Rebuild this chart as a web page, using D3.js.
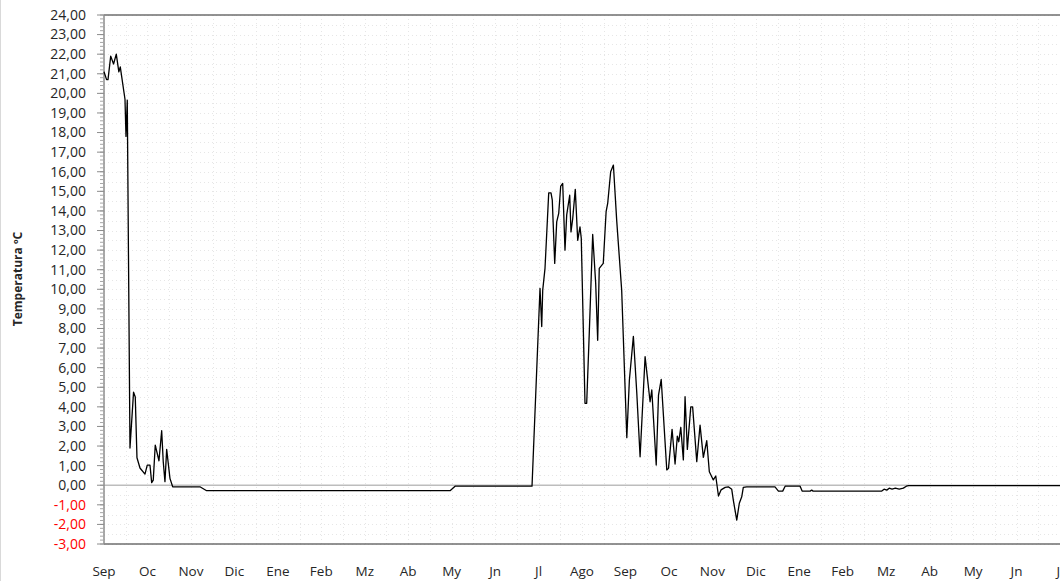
<!DOCTYPE html>
<html><head><meta charset="utf-8">
<script src="https://cdn.jsdelivr.net/npm/d3@7/dist/d3.min.js"></script>
<style>
html,body{margin:0;padding:0;background:#fff;}
svg{display:block;}
text{font-family:"Open Sans","Lato",sans-serif;}
</style></head>
<body>
<svg id="chart" width="1060" height="581"></svg>
<script>
// Month labels (Sep 2010 .. Jul 2012)
const months = ["Sep","Oc","Nov","Dic","Ene","Feb","Mz","Ab","My","Jn","Jl","Ago","Sep","Oc","Nov","Dic","Ene","Feb","Mz","Ab","My","Jn","Jl"];
// Y tick values
const yTicks = d3.range(-3, 25, 1);
// Days since 1 Sep (first year) of each reading
const days = [0,1.8,2.8,4.7,6.7,8.6,10.4,11.4,14.7,15.4,16.3,18.2,20.7,21.9,23.1,25.2,28.7,30.3,32.2,33.4,34.5,35.9,38.5,40.4,41.5,42.7,43.9,46.2,48.1,67.2,71.9,242.4,245.9,299.8,
305.4,306.6,307.3,308.9,310.1,311.5,313.1,314.0,315.7,317.1,318.5,319.9,321.3,322.9,324.1,326.2,327.1,328.3,330.1,331.8,333.4,334.3,336.9,338.1,339.9,342.3,344.4,345.8,346.9,349.7,351.7,352.8,354.9,356.8,359.1,362.6,
366.2,368.0,370.8,373.2,375.5,379.0,382.5,383.7,386.8,388.4,390.3,394.2,395.4,397.9,400.0,401.6,402.6,404.0,405.8,407.0,408.6,411.0,412.3,415.2,417.5,419.8,422.2,424.0,426.8,428.5,430.4,432.2,435.1,437.3,439.7,440.8,443.2,445.0,446.7,447.8,450.2,
470.0,472.4,475.4,477.1,487.6,489.0,494.6,495.7,496.7,544.8,546.4,548.3,550,552,554.3,557,559.9,562,563.6,669.7];
// Temperature (ºC)
const temps = [21.1,20.7,20.7,21.9,21.5,22.0,21.1,21.35,19.7,17.8,19.65,1.9,4.75,4.5,1.4,0.88,0.57,1.03,1.03,0.13,0.26,2.05,1.25,2.78,1.2,0.18,1.83,0.35,-0.08,-0.08,-0.28,-0.28,-0.05,-0.05,
10.05,8.1,9.96,11.07,12.85,14.92,14.92,14.55,11.32,13.44,13.87,15.27,15.4,12.0,13.8,14.8,12.93,13.6,15.1,12.5,13.19,12.6,4.18,4.18,7.75,12.8,10.3,7.4,11.07,11.32,13.96,14.38,16.0,16.34,13.53,9.96,
2.43,5.37,7.6,4.69,1.45,6.56,4.26,4.86,1.03,4.6,5.4,0.78,0.86,2.85,1.08,2.51,2.22,2.95,1.29,4.52,1.83,4.0,4.0,1.2,3.07,1.42,2.27,0.69,0.27,0.47,-0.55,-0.24,-0.11,-0.08,-0.21,-0.76,-1.78,-0.92,-0.59,-0.11,-0.08,
-0.08,-0.3,-0.3,-0.05,-0.05,-0.3,-0.3,-0.25,-0.3,-0.3,-0.2,-0.25,-0.15,-0.2,-0.15,-0.2,-0.15,-0.05,-0.02,-0.02];

const MONTH = 30.4375;
const svg = d3.select("#chart");
const pLeft = 104, pRight = 1060, pTop = 15, pBottom = 544;

const x = d3.scaleLinear().domain([0, 22 * MONTH]).range([pLeft, pRight]);
const y = d3.scaleLinear().domain([-3, 24]).range([pBottom, pTop]);

// outer chart border (left)
svg.append("line").attr("x1",0.5).attr("x2",0.5).attr("y1",0).attr("y2",581)
  .attr("stroke","#d9d9d9").attr("stroke-width",1);

// grid
const g = svg.append("g");
g.selectAll("line.hg").data(d3.range(-3, 24.01, 0.5)).join("line")
  .attr("x1", pLeft).attr("x2", 1060)
  .attr("y1", d => Math.round(y(d)) + 0.5).attr("y2", d => Math.round(y(d)) + 0.5)
  .attr("stroke", "#e6e6e6").attr("stroke-dasharray", "1,3");
g.selectAll("line.vg").data(d3.range(0, 23 * 2).map(i => i * MONTH / 2)).join("line")
  .attr("y1", pTop).attr("y2", pBottom)
  .attr("x1", d => Math.round(x(d)) + 0.5).attr("x2", d => Math.round(x(d)) + 0.5)
  .attr("stroke", "#e6e6e6").attr("stroke-dasharray", "1,3");

// zero line
svg.append("line").attr("x1", pLeft).attr("x2", 1060)
  .attr("y1", y(0)).attr("y2", y(0))
  .attr("stroke", "#bdbdbd").attr("stroke-width", 1.5);

// frame top & bottom
svg.append("line").attr("x1", pLeft).attr("x2", 1060).attr("y1", pTop).attr("y2", pTop)
  .attr("stroke", "#6e6e6e").attr("stroke-width", 1.5);
svg.append("line").attr("x1", pLeft).attr("x2", 1060).attr("y1", pBottom).attr("y2", pBottom)
  .attr("stroke", "#6e6e6e").attr("stroke-width", 1.5);

// y axis
const yAxis = svg.append("g").attr("transform", `translate(${pLeft},0)`);
yAxis.append("line").attr("x1",0).attr("x2",0).attr("y1",pTop).attr("y2",pBottom)
  .attr("stroke","#8c8c8c").attr("stroke-width",1.5);
yAxis.selectAll("line.minor").data(d3.range(-3, 24.001, 0.2)).join("line")
  .attr("x1",-4).attr("x2",0).attr("y1", d=>y(d)).attr("y2", d=>y(d))
  .attr("stroke","#a6a6a6").attr("stroke-width",1);
yAxis.selectAll("line.major").data(yTicks).join("line")
  .attr("x1",-7).attr("x2",0).attr("y1", d=>y(d)).attr("y2", d=>y(d))
  .attr("stroke","#8c8c8c").attr("stroke-width",1);
const fmt = v => d3.format(".2f")(v).replace(".", ",").replace("−","-");
yAxis.selectAll("text").data(yTicks).join("text")
  .attr("x", -18).attr("y", d => y(d)).attr("dy", "0.35em")
  .attr("text-anchor", "end").attr("font-size", 14)
  .attr("fill", d => d < 0 ? "#ff0000" : "#262626")
  .text(d => fmt(d));

// x labels
svg.append("g").selectAll("text").data(months).join("text")
  .attr("x", (d, i) => x(i * MONTH)).attr("y", 576)
  .attr("text-anchor", "middle").attr("font-size", 13.5).attr("fill", "#262626")
  .text(d => d);

// axis title
svg.append("text").attr("transform", "translate(22,279) rotate(-90)")
  .attr("text-anchor", "middle").attr("font-size", 12).attr("font-weight", "bold")
  .attr("fill", "#262626").text("Temperatura ºC");

// data line
const pts = days.map((d, i) => [d, temps[i]]);
svg.append("path").datum(pts)
  .attr("fill", "none").attr("stroke", "#000").attr("stroke-width", 1.3)
  .attr("stroke-linejoin", "round")
  .attr("d", d3.line().x(d => x(d[0])).y(d => y(d[1])));
</script>
</body></html>
